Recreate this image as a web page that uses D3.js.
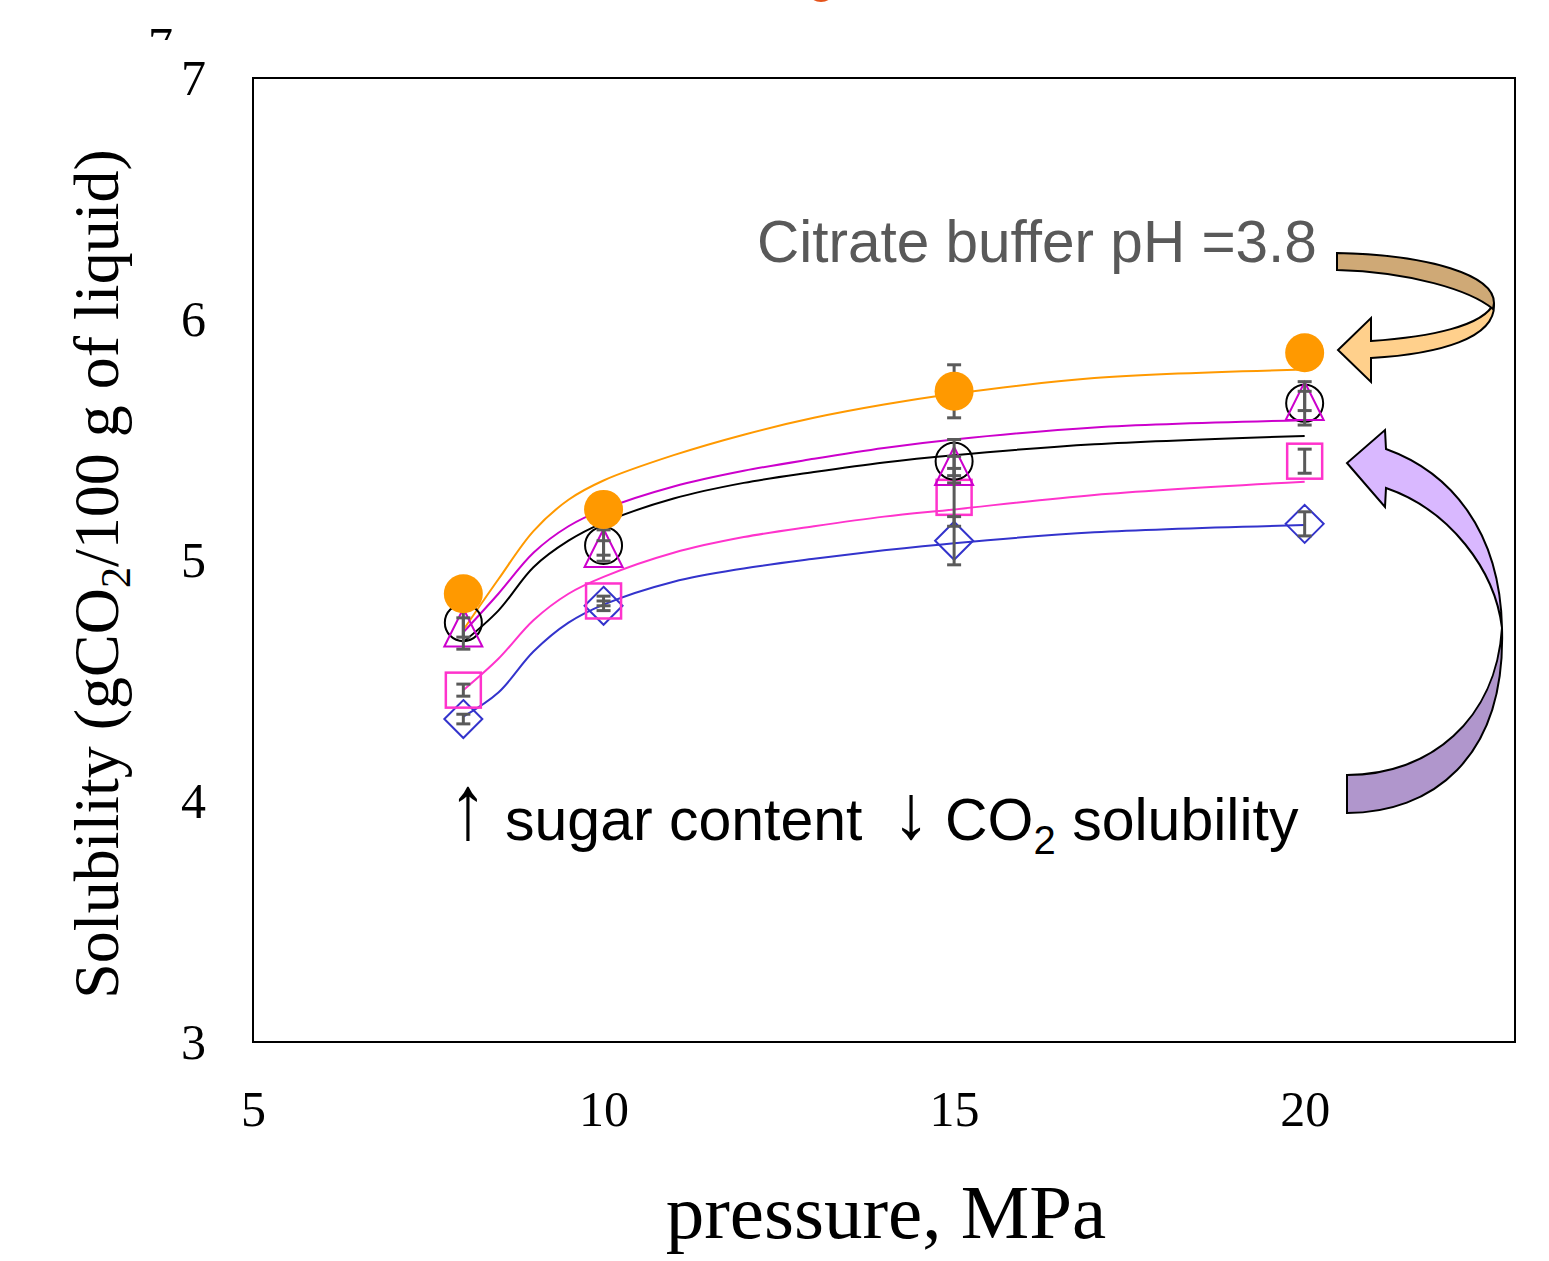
<!DOCTYPE html>
<html><head><meta charset="utf-8">
<script src="https://cdn.jsdelivr.net/npm/d3@7"></script>
<style>body{margin:0;background:#fff}svg{display:block}</style>
</head><body>
<svg id="c" width="1549" height="1261"></svg>
<script>
// ---- data ----
const pressures = [8, 10, 15, 20];
const xTicks = [5, 10, 15, 20];
const yTicks = [3, 4, 5, 6, 7];

const citrateVals = [4.86, 5.21, 5.70, 5.86];
const citrateErr  = [0.03, 0.03, 0.11, 0.03];
const blackVals   = [4.74, 5.06, 5.41, 5.65];
const blackErr    = [0.11, 0.065, 0.09, 0.09];
const triVals     = [4.72, 5.05, 5.39, 5.66];
const triErr      = [0.04, 0.03, 0.04, 0.04];
const squareVals  = [4.46, 4.83, 5.26, 5.41];
const squareErr   = [0.025, 0.02, 0.12, 0.05];
const diamondVals = [4.34, 4.81, 5.08, 5.15];
const diamondErr  = [0.02, 0.02, 0.10, 0.05];

// fitted curves
const fitX        = [8, 8.5, 9, 9.5, 10, 11, 12, 13, 14, 15, 17, 20];
const fitCitrate  = [4.71, 4.92, 5.12, 5.25, 5.33, 5.435, 5.52, 5.59, 5.645, 5.69, 5.755, 5.79];
const fitMagenta  = [4.70, 4.86, 5.03, 5.14, 5.21, 5.305, 5.37, 5.42, 5.465, 5.50, 5.55, 5.58];
const fitBlack    = [4.66, 4.79, 4.97, 5.08, 5.155, 5.255, 5.32, 5.365, 5.405, 5.435, 5.48, 5.515];
const fitPink     = [4.46, 4.59, 4.75, 4.86, 4.93, 5.03, 5.095, 5.14, 5.18, 5.21, 5.27, 5.325];
const fitBlue     = [4.35, 4.45, 4.62, 4.74, 4.815, 4.91, 4.965, 5.005, 5.04, 5.07, 5.115, 5.145];

// ---- chart ----
const svg = d3.select("#c");
const x = d3.scaleLinear().domain([5, 23]).range([253, 1515]);
const y = d3.scaleLinear().domain([3, 7]).range([1042, 78]);

// stray artefacts at the top of the crop
svg.append("clipPath").attr("id","cl7").append("rect").attr("x",140).attr("y",0).attr("width",50).attr("height",40);
svg.append("text").attr("x",148).attr("y",62).attr("font-family","Liberation Serif").attr("font-size",50)
  .attr("clip-path","url(#cl7)").text("7");
svg.append("ellipse").attr("cx",821).attr("cy",-11).attr("rx",14).attr("ry",13).attr("fill","#e5531a");

// frame
svg.append("rect").attr("x",x(5)).attr("y",y(7)).attr("width",x(23)-x(5)).attr("height",y(3)-y(7))
  .attr("fill","none").attr("stroke","#000").attr("stroke-width",2);

const yAx = svg.append("g").attr("transform",`translate(${x(5)},0)`)
  .call(d3.axisLeft(y).tickValues(yTicks).tickSize(0).tickPadding(47).tickFormat(d3.format("d")));
const xAx = svg.append("g").attr("transform",`translate(0,${y(3)})`)
  .call(d3.axisBottom(x).tickValues(xTicks).tickSize(0).tickPadding(48).tickFormat(d3.format("d")));
[yAx,xAx].forEach(g=>{g.select(".domain").remove();
  g.selectAll("text").attr("font-family","Liberation Serif").attr("font-size",50).attr("fill","#000");});

// axis titles
svg.append("text").attr("x",886).attr("y",1238).attr("text-anchor","middle")
  .attr("font-family","Liberation Serif").attr("font-size",77).text("pressure, MPa");
const yt = svg.append("text").attr("transform","translate(118,574) rotate(-90)").attr("text-anchor","middle")
  .attr("font-family","Liberation Serif").attr("font-size",64);
yt.append("tspan").text("Solubility (gCO");
yt.append("tspan").attr("font-size",42).attr("dy",12).text("2");
yt.append("tspan").attr("dy",-12).text("/100 g of liquid)");

// curves
const line = d3.line().x((d,i)=>x(fitX[i])).y(d=>y(d)).curve(d3.curveCatmullRom.alpha(0.5));
const curves = [[fitBlue,"#3333cc"],[fitPink,"#ff33cc"],[fitBlack,"#000"],[fitMagenta,"#cc00cc"],[fitCitrate,"#ff9900"]];
curves.forEach(([vals,col])=>svg.append("path").attr("d",line(vals)).attr("fill","none")
  .attr("stroke",col).attr("stroke-width",2));

// open markers
const g = svg.append("g");
g.selectAll(".dm").data(diamondVals).join("path").attr("fill","none").attr("stroke","#3333cc").attr("stroke-width",2)
  .attr("d",(d,i)=>{const cx=x(pressures[i]),cy=y(d),r=19;return `M${cx},${cy-r}L${cx+r},${cy}L${cx},${cy+r}L${cx-r},${cy}Z`;});
g.selectAll(".sq").data(squareVals).join("rect").attr("fill","none").attr("stroke","#ff33cc").attr("stroke-width",2.5)
  .attr("x",(d,i)=>x(pressures[i])-17.5).attr("y",d=>y(d)-17.5).attr("width",35).attr("height",35);
g.selectAll(".bc").data(blackVals).join("circle").attr("fill","none").attr("stroke","#000").attr("stroke-width",2)
  .attr("cx",(d,i)=>x(pressures[i])).attr("cy",d=>y(d)).attr("r",18.5);
g.selectAll(".tr").data(triVals).join("path").attr("fill","none").attr("stroke","#cc00cc").attr("stroke-width",2)
  .attr("d",(d,i)=>{const cx=x(pressures[i]),cy=y(d),r=19;return `M${cx},${cy-r}L${cx+r},${cy+r}L${cx-r},${cy+r}Z`;});

// error bars
const eb = svg.append("g").attr("stroke","#5a5a5a").attr("stroke-width",3);
[[citrateVals,citrateErr],[blackVals,blackErr],[triVals,triErr],[squareVals,squareErr],[diamondVals,diamondErr]]
 .forEach(([v,e])=>v.forEach((d,i)=>{
   const cx=x(pressures[i]), t=y(d+e[i]), b=y(d-e[i]);
   eb.append("line").attr("x1",cx).attr("x2",cx).attr("y1",t).attr("y2",b);
   eb.append("line").attr("x1",cx-7).attr("x2",cx+7).attr("y1",t).attr("y2",t);
   eb.append("line").attr("x1",cx-7).attr("x2",cx+7).attr("y1",b).attr("y2",b);
 }));

// citrate filled circles
svg.selectAll(".oc").data(citrateVals).join("circle").attr("fill","#ff9900")
  .attr("cx",(d,i)=>x(pressures[i])).attr("cy",d=>y(d)).attr("r",19.5);

// annotations
svg.append("text").attr("x",757).attr("y",262).attr("font-family","Liberation Sans").attr("font-size",58.5)
  .attr("fill","#595959").text("Citrate buffer pH =3.8");
const fs = 59;
svg.append("text").attr("x",468).attr("y",838).attr("text-anchor","middle").attr("font-family","Liberation Sans")
  .attr("font-size",fs).attr("transform","translate(468,838) scale(1.3,1.55) translate(-468,-838)").text("↑");
svg.append("text").attr("x",505).attr("y",840).attr("font-family","Liberation Sans").attr("font-size",fs).text("sugar content");
svg.append("text").attr("x",911).attr("y",838).attr("text-anchor","middle").attr("font-family","Liberation Sans")
  .attr("font-size",fs).attr("transform","translate(911,838) scale(1.3,1.3) translate(-911,-838)").text("↓");
const an = svg.append("text").attr("x",945).attr("y",840).attr("font-family","Liberation Sans").attr("font-size",fs);
an.append("tspan").text("CO");
an.append("tspan").attr("font-size",40).attr("dy",14).text("2");
an.append("tspan").attr("dy",-14).text(" solubility");

// curved arrows
svg.append("path").attr("d","M1494,303 C1484,326 1430,337 1371,341 L1371,318 L1338,350 L1371,382 L1371,358 C1440,354 1495,338 1494,305 Z")
  .attr("fill","#ffd08c").attr("stroke","#000").attr("stroke-width",2);
svg.append("path").attr("d","M1337,253 C1430,255 1494,275 1494,303 L1493,309 C1470,290 1410,272 1337,270 Z")
  .attr("fill","#cfa976").attr("stroke","#000").attr("stroke-width",2);
svg.append("path").attr("d","M1386,449 C1450,472 1500,530 1502,628 C1495,570 1450,510 1386,488 L1385,507 L1347,463 L1385,430 Z")
  .attr("fill","#d9b8ff").attr("stroke","#000").attr("stroke-width",2);
svg.append("path").attr("d","M1502,628 C1506,760 1430,813 1347,813 L1347,775 C1430,775 1496,720 1502,628 Z")
  .attr("fill","#b096cc").attr("stroke","#000").attr("stroke-width",2);
</script>
</body></html>
